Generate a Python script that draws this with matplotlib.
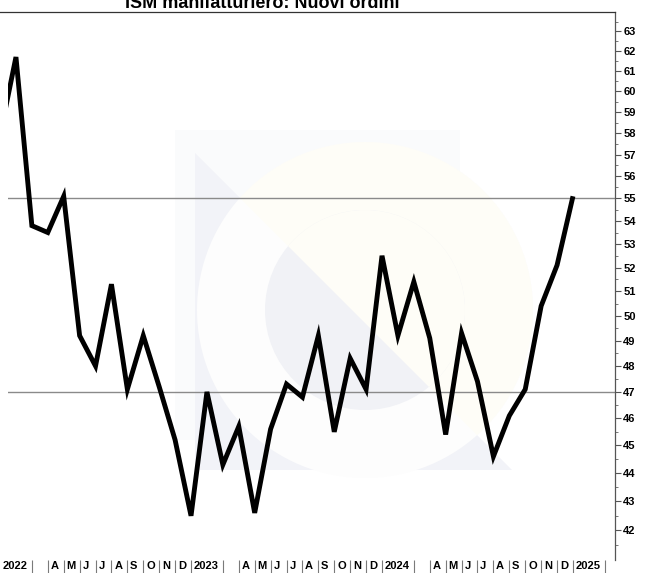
import matplotlib
matplotlib.use("Agg")
import matplotlib.pyplot as plt
import matplotlib.ticker as mticker
import matplotlib.transforms as mtrans
from matplotlib.patches import Polygon, Circle, Rectangle
from matplotlib.lines import Line2D

# ---------------- data ----------------
title = "ISM manifatturiero: Nuovi ordini"
# monthly values Jan 2022 .. Jan 2025
new_orders = [57.9, 61.7, 53.8, 53.5, 55.1, 49.2, 48.0, 51.3, 47.1, 49.2, 47.2, 45.2,
              42.5, 47.0, 44.3, 45.7, 42.6, 45.6, 47.3, 46.8, 49.2, 45.5, 48.3, 47.1,
              52.5, 49.2, 51.4, 49.1, 45.4, 49.3, 47.4, 44.6, 46.1, 47.1, 50.4, 52.1,
              55.1]
years = ["2022", "2023", "2024", "2025"]
month_letters = ["", "", "", "A", "M", "J", "J", "A", "S", "O", "N", "D"]
ref_levels = [55, 47]
y_ticks = list(range(42, 64))

W, H = 654, 573
plt.rcParams['font.family'] = ['Liberation Sans', 'DejaVu Sans']

fig = plt.figure(figsize=(W / 100, H / 100), dpi=100)
fig.patch.set_facecolor("white")

def fx(x):
    return x / W

def fy(y):
    return 1 - y / H

# ---- very faint watermark (pixel coordinates, y downwards) ----
ptr = mtrans.Affine2D().scale(1, -1).translate(0, H)
sq = Rectangle((175, 130), 285, 310, transform=ptr, facecolor="#fafbfc",
               edgecolor="none", zorder=-6)
fig.add_artist(sq)
tri = Polygon([(195, 153), (195, 470), (512, 470)], closed=True, transform=ptr,
              facecolor="#f2f3f8", edgecolor="none", zorder=-5)
fig.add_artist(tri)
cx, cy, r_out, r_in = 365, 310, 168, 100
ring = Circle((cx, cy), r_out, transform=ptr, facecolor="#fdfdfd",
              edgecolor="none", zorder=-4)
fig.add_artist(ring)
upper = Polygon([(-5, -47), (700, -47), (700, 658)], closed=True, transform=ptr,
                facecolor="#fefdf7", edgecolor="none", zorder=-3)
fig.add_artist(upper)
upper.set_clip_path(ring)
inner = Circle((cx, cy), r_in, transform=ptr, facecolor="#f1f2f6",
               edgecolor="none", zorder=-2)
fig.add_artist(inner)
upper2 = Polygon([(-5, -47), (700, -47), (700, 658)], closed=True, transform=ptr,
                 facecolor="#fefdf7", edgecolor="none", zorder=-1)
fig.add_artist(upper2)
upper2.set_clip_path(inner)

# ---- axes ----
ax = fig.add_axes([fx(8), fy(560), (615 - 8) / W, (560 - 12) / H])
ax.patch.set_alpha(0)

x = list(range(len(new_orders)))
ax.plot(x, new_orders, color="black", lw=3.5, solid_joinstyle="miter",
        solid_capstyle="butt", zorder=5)

for lvl in ref_levels:
    ax.axhline(lvl, color="#8a8a8a", lw=1.0, zorder=2)

ax.set_yscale("log")
ax.set_ylim(41, 64)
ax.set_xlim(0.5, 38.64)

ax.yaxis.tick_right()
ax.yaxis.set_major_locator(mticker.FixedLocator(y_ticks))
ax.yaxis.set_major_formatter(mticker.FixedFormatter([str(v) for v in y_ticks]))
ax.yaxis.set_minor_locator(mticker.FixedLocator([v + 0.5 for v in range(41, 64)]))
ax.yaxis.set_minor_formatter(mticker.NullFormatter())
ax.tick_params(axis="y", which="major", direction="out", length=4.5, width=0.8,
               color="#555555", pad=1.5, labelsize=8, labelcolor="black")
ax.tick_params(axis="y", which="minor", direction="out", length=2.2, width=0.7,
               color="#777777")
for lab in ax.get_yticklabels():
    lab.set_fontweight("bold")

# x ticks: every month except February
n_months = 39
xt = [i for i in range(1, n_months) if i % 12 != 1]
ax.set_xticks(xt)
ax.set_xticklabels([])
ax.tick_params(axis="x", which="major", direction="out", length=9.5, width=0.8,
               color="#7a7a7a")
ax.xaxis.set_minor_locator(mticker.NullLocator())

lab_tr = mtrans.offset_copy(ax.get_xaxis_transform(), fig=fig, x=2.0, y=-1.0,
                            units="points")
for i in range(n_months):
    if i % 12 == 0:
        txt = years[i // 12]
    else:
        txt = month_letters[i % 12]
    if not txt:
        continue
    ax.text(i, 0, txt, transform=lab_tr, ha="left", va="top", fontsize=8,
            fontweight="bold", clip_on=False)

for s in ["left", "bottom"]:
    ax.spines[s].set_visible(False)
ax.spines["right"].set_color("#555555")
ax.spines["right"].set_linewidth(0.9)
ax.spines["top"].set_visible(False)

fig.add_artist(Line2D([0, fx(615)], [fy(12), fy(12)], transform=fig.transFigure,
                      color="#333333", lw=0.9))

fig.text(fx(262), fy(8), title, ha="center", va="baseline", fontsize=13,
         fontweight="bold")

fig.savefig("out.png", dpi=100)
